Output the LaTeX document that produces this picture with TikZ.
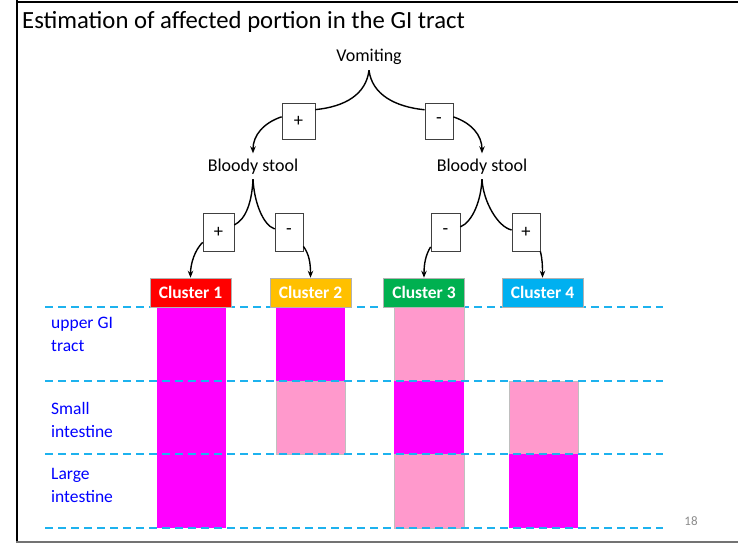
\documentclass[tikz,border=0pt]{standalone}
\usepackage{fontspec}
\setmainfont{Carlito}
\usetikzlibrary{arrows.meta}
\definecolor{magentaF}{HTML}{FF00FF}
\definecolor{pinkF}{HTML}{FF99CC}
\definecolor{dashblue}{HTML}{1DB2EE}
\definecolor{cone}{HTML}{FF0000}
\definecolor{ctwo}{HTML}{FFC000}
\definecolor{cthree}{HTML}{00B050}
\definecolor{cfour}{HTML}{00B0F0}
\definecolor{lblblue}{HTML}{0000FF}
\begin{document}
\begin{tikzpicture}[x=1pt,y=1pt,
  lbl/.style={font=\fontsize{18}{21}\selectfont, inner sep=0pt},
  signbox/.style={draw=black!75, line width=0.7pt, fill=white, font=\fontsize{18.5}{21}\selectfont, inner sep=0pt},
  branch/.style={line width=1.4pt},
  arr/.style={line width=1.4pt, -{Stealth[length=7pt,width=5.5pt]}},
  clbox/.style={draw=black!30, line width=0.5pt, minimum width=81pt, minimum height=29pt, inner sep=0pt, text=white, font=\bfseries\fontsize{17.5}{20}\selectfont},
  levline/.style={dashblue, line width=1.6pt, dash pattern=on 8pt off 5pt},
  hot/.style={fill=magentaF},
  mild/.style={fill=pinkF, draw=black!25, line width=0.5pt},
  side/.style={text=lblblue, font=\fontsize{17.5}{23}\selectfont, align=left, inner sep=0pt, anchor=north west}
]
\useasboundingbox (0,0) rectangle (738,-543);
\fill[white] (0,0) rectangle (738,-543);

% frame
\draw[line width=2pt] (16,-2) -- (738,-2);
\draw[line width=2.5pt] (17,0) -- (17,-541.5);
\draw[black!55, line width=2pt] (16,-541.5) -- (738,-541.5);

% title
\node[anchor=base west, font=\fontsize{24.7}{29}\selectfont, inner sep=0pt] (title) at (22,-29) {Estimation of affected portion in the GI tract};

% tree text nodes
\node[lbl, inner ysep=5pt, anchor=base] (vom) at (369,-62) {Vomiting};
\node[lbl, inner ysep=5pt, anchor=base] (bsa) at (253,-171) {Bloody stool};
\node[lbl, inner ysep=5pt, anchor=base] (bsb) at (482,-171) {Bloody stool};

% sign boxes
\node[signbox, minimum width=33pt, minimum height=36pt] (pa) at (298.5,-121) {+};
\node[signbox, minimum width=28pt, minimum height=36pt] (ma) at (439,-121) {-};
\node[signbox, minimum width=31pt, minimum height=38pt] (pb) at (218.5,-232) {+};
\node[signbox, minimum width=28pt, minimum height=38pt] (mb) at (289,-232) {-};
\node[signbox, minimum width=29pt, minimum height=38pt] (mc) at (445.5,-232) {-};
\node[signbox, minimum width=28pt, minimum height=38pt] (pc) at (526,-232) {+};

% bars
\fill[hot] (157,-307) rectangle (226,-528);
\fill[hot] (276,-307) rectangle (345,-381);
\draw[mild] (276,-381) rectangle (345,-454);
\draw[mild] (394,-307) rectangle (464,-381);
\fill[hot] (394,-381) rectangle (464,-454);
\draw[mild] (394,-454) rectangle (464,-528);
\draw[mild] (509,-381) rectangle (578,-454);
\fill[hot] (509,-454) rectangle (578,-528);

% level lines
\foreach \yy in {307,381,454,528}{
  \draw[levline] (45,-\yy) -- (663,-\yy);
}

% cluster boxes
\node[clbox, fill=cone] (cla) at (190.5,-292.5) {Cluster 1};
\node[clbox, fill=ctwo] (clb) at (310.5,-292.5) {Cluster 2};
\node[clbox, fill=cthree] (clc) at (424,-292.5) {Cluster 3};
\node[clbox, fill=cfour] (cld) at (542.5,-292.5) {Cluster 4};

% side labels
\node[side] (lup) at (51,-317) {upper GI\\tract};
\node[side] (lsm) at (51,-402.5) {Small\\intestine};
\node[side] (llg) at (51,-468) {Large\\intestine};

% page number
\node[anchor=base, text=black!45, font=\fontsize{13}{15}\selectfont, inner sep=0pt] (pg) at (691,-525) {18};

% connectors: vomiting
\draw[branch] (vom.south) .. controls +(-3,-24) and +(30,3) .. (pa.34);
\draw[branch] (vom.south) .. controls +(3,-24) and +(-30,3) .. (ma.142);
\draw[arr] (pa.166) .. controls +(-18,-6) and +(0,18) .. (bsa.north);
\draw[arr] (ma.16) .. controls +(18,-6) and +(0,18) .. (bsb.north);

% connectors: bloody stool
\draw[branch] (bsa.south) .. controls +(-1,-22) and +(12,6) .. (pb.24);
\draw[branch] (bsa.south) .. controls +(1,-22) and +(-12,4) .. (mb.168);
\draw[branch] (bsb.south) .. controls +(-1,-22) and +(12,5) .. (mc.19);
\draw[branch] (bsb.south) .. controls +(1,-22) and +(-14,3) .. (pc.172);

% arrows to clusters
\draw[arr] (pb.213) .. controls +(-8,-8) and +(0,14) .. (cla.north);
\draw[arr] (mb.-45) .. controls +(6,-8) and +(0,14) .. (clb.north);
\draw[arr] (mc.225) .. controls +(-5,-8) and +(0,14) .. (clc.north);
\draw[arr] (pc.south east) .. controls +(2,-8) and +(0,12) .. (cld.north);
\end{tikzpicture}
\end{document}
